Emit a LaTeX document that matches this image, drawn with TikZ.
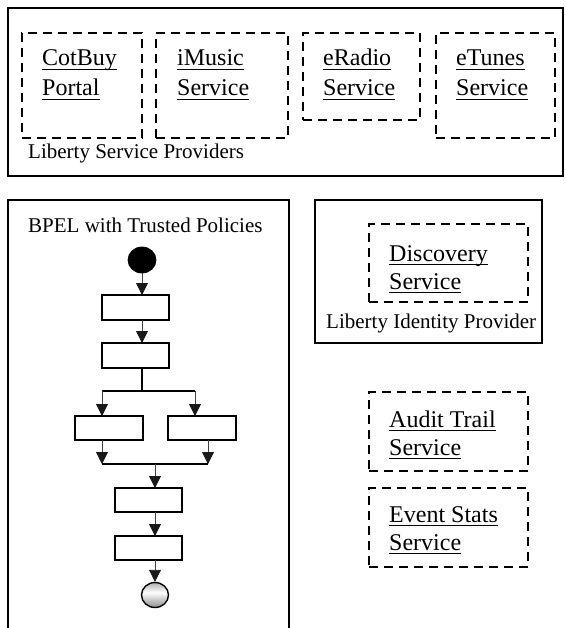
\documentclass[tikz,border=0pt]{standalone}
\usepackage{fontspec}
\setmainfont{Liberation Serif}
\usetikzlibrary{arrows.meta,shapes.geometric}

% underlined service name: rule at a fixed depth below the baseline
\newcommand\svcul[1]{\setbox0\hbox{#1}\rlap{\rule[-4.2pt]{\wd0}{1.5pt}}\box0}

% grey ball for the final state: dark rim top and bottom, light centre
\pgfdeclareverticalshading{endball}{100bp}{%
  color(0bp)=(black!65); color(25bp)=(black!45); color(55bp)=(white);
  color(78bp)=(black!35); color(100bp)=(black!70)}

\tikzset{
  frame/.style={draw, line width=1.8pt, rectangle, inner sep=0pt, outer sep=0pt, anchor=north west},
  svcbox/.style={draw, line width=1.6pt, dash pattern=on 9pt off 6pt, rectangle,
                 inner sep=0pt, outer sep=0pt, anchor=north west},
  svctext/.style={anchor=base west, inner sep=0pt, font=\fontsize{24}{29}\selectfont},
  caption/.style={anchor=base west, inner sep=0pt, font=\fontsize{21}{25}\selectfont},
  act/.style={draw, line width=1.6pt, rectangle, inner sep=0pt, outer sep=0pt},
  arr/.style={draw=black!75, line width=0.9pt,
              -{Triangle[length=12pt,width=12pt,fill=black!90,color=black!90]}},
  bar/.style={draw, line width=1.3pt},
}

\begin{document}
\begin{tikzpicture}[x=1pt, y=-1pt]
\useasboundingbox (0,0) rectangle (565,628);
\clip (0,0) rectangle (565,628);

% ---------- Liberty Service Providers ----------
\node[frame, minimum width=555pt, minimum height=168pt] (spframe) at (8,8) {};
\node[svcbox, minimum width=120pt, minimum height=105pt] (cotbuy) at (22,33) {};
\node[svcbox, minimum width=132pt, minimum height=105pt] (imusic) at (156,33) {};
\node[svcbox, minimum width=117pt, minimum height=87pt]  (eradio) at (303,33) {};
\node[svcbox, minimum width=119pt, minimum height=105pt] (etunes) at (436,33) {};

\node[svctext] (cotbuy1) at (42,66) {\svcul{CotBuy}};
\node[svctext] (cotbuy2) at (42,96) {\svcul{Portal}};
\node[svctext] (imusic1) at (177,66) {\svcul{iMusic}};
\node[svctext] (imusic2) at (177,96) {\svcul{Service}};
\node[svctext] (eradio1) at (323,66) {\svcul{eRadio}};
\node[svctext] (eradio2) at (323,96) {\svcul{Service}};
\node[svctext] (etunes1) at (456,66) {\svcul{eTunes}};
\node[svctext] (etunes2) at (456,96) {\svcul{Service}};
\node[caption] (splabel) at (28,159) {Liberty Service Providers};

% ---------- BPEL process ----------
\node[frame, minimum width=281pt, minimum height=460pt] (bpelframe) at (8,200) {};
\node[caption] (bpellabel) at (28,233) {BPEL with Trusted Policies};

\node[ellipse, fill=black, draw, line width=0.8pt, inner sep=0pt,
      minimum width=28pt, minimum height=26pt] (start) at (142,260) {};
\node[act, minimum width=67pt, minimum height=25pt] (b1) at (135.5,307.5) {};
\node[act, minimum width=67pt, minimum height=25pt] (b2) at (135.5,355.5) {};
\node[act, minimum width=68pt, minimum height=24pt] (b3) at (109,428) {};
\node[act, minimum width=68pt, minimum height=24pt] (b4) at (202,428) {};
\node[act, minimum width=67pt, minimum height=24pt] (b5) at (148.5,500) {};
\node[act, minimum width=67pt, minimum height=24pt] (b6) at (148.5,548) {};
\node[ellipse, draw, line width=1.4pt, inner sep=0pt,
      minimum width=27pt, minimum height=25pt, shading=endball] (finish) at (155,595) {};

\coordinate (splitL) at (102,391);
\coordinate (splitR) at (195,391);
\coordinate (joinL)  at (102,464);
\coordinate (joinR)  at (208,464);
\coordinate (joinM)  at (155,464);

\draw[arr] (start.south) -- (start.south |- b1.north);
\draw[arr] (start.south |- b1.south) -- (start.south |- b2.north);
\draw[bar] (start.south |- b2.south) -- (start.south |- splitL);
\draw[bar] (splitL) -- (splitR);
\draw[arr] (splitL) -- (splitL |- b3.north);
\draw[arr] (splitR) -- (splitR |- b4.north);
\draw[arr] (joinL |- b3.south) -- (joinL);
\draw[arr] (joinR |- b4.south) -- (joinR);
\draw[bar] (joinL) -- (joinR);
\draw[arr] (joinM) -- (joinM |- b5.north);
\draw[arr] (joinM |- b5.south) -- (joinM |- b6.north);
\draw[arr] (joinM |- b6.south) -- (finish.north);

% ---------- Liberty Identity Provider ----------
\node[frame, minimum width=227pt, minimum height=143pt] (idpframe) at (315,200) {};
\node[svcbox, minimum width=159pt, minimum height=78pt] (disc) at (369,224) {};
\node[svctext] (disc1) at (389,261) {\svcul{Discovery}};
\node[svctext] (disc2) at (389,289) {\svcul{Service}};
\node[caption] (idplabel) at (326,328) {Liberty Identity Provider};

% ---------- Audit and statistics services ----------
\node[svcbox, minimum width=159pt, minimum height=79pt] (audit) at (369,392) {};
\node[svctext] (audit1) at (389,427) {\svcul{Audit Trail}};
\node[svctext] (audit2) at (389,455) {\svcul{Service}};

\node[svcbox, minimum width=159pt, minimum height=79pt] (stats) at (369,488) {};
\node[svctext] (stats1) at (389,522) {\svcul{Event Stats}};
\node[svctext] (stats2) at (389,550) {\svcul{Service}};
\end{tikzpicture}
\end{document}
